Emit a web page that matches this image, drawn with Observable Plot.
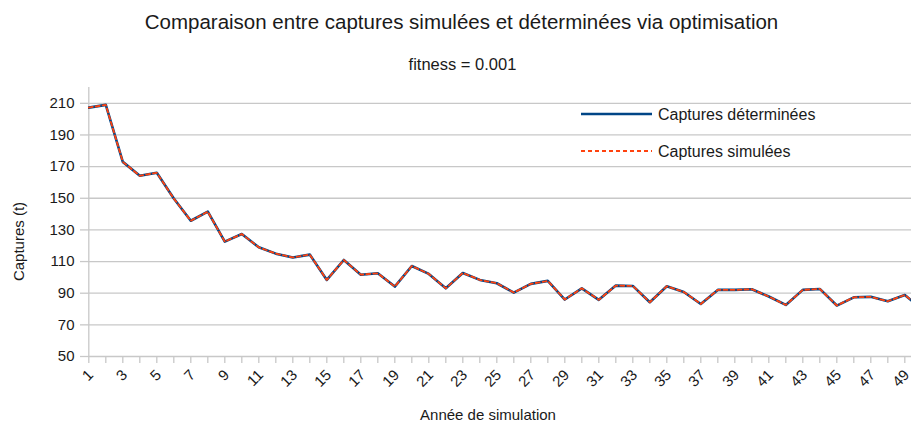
<!DOCTYPE html>
<html>
<head>
<meta charset="utf-8">
<script src="https://cdn.jsdelivr.net/npm/d3@7"></script>
<script src="https://cdn.jsdelivr.net/npm/@observablehq/plot@0.6"></script>
<style>
  html, body { margin: 0; padding: 0; background: white; overflow: hidden; }
  #wrap { position: relative; width: 911px; height: 422px; overflow: hidden; }
  #wrap svg { position: absolute; top: 0; left: 0; }
</style>
</head>
<body>
<div id="wrap"></div>
<script>
const title = "Comparaison entre captures simulées et déterminées via optimisation";
const subtitle = "fitness = 0.001";
const xLabel = "Année de simulation";
const yLabel = "Captures (t)";
const seriesNames = ["Captures déterminées", "Captures simulées"];
const seriesColors = ["#004586", "#ff420e"];

const years = [1,2,3,4,5,6,7,8,9,10,11,12,13,14,15,16,17,18,19,20,21,22,23,24,25,
               26,27,28,29,30,31,32,33,34,35,36,37,38,39,40,41,42,43,44,45,46,47,48,49,50];
const labelYears = [1,3,5,7,9,11,13,15,17,19,21,23,25,27,29,31,33,35,37,39,41,43,45,47,49];
const determined = [207.3,209,173,164.2,166.1,149.8,135.8,141.5,122.6,127.4,
                    119,115,112.6,114.4,98.4,111,101.7,102.6,94.2,107.2,
                    102.2,93.1,102.8,98.4,96.3,90.4,95.9,97.8,86,93.1,
                    85.8,94.8,94.6,84.3,94.4,90.8,83.2,92.1,92.1,92.5,
                    87.9,82.6,92.1,92.7,82.2,87.4,87.7,84.9,88.9,80];
const simulated = [207.3,209,173,164.2,166.1,149.8,135.8,141.5,122.6,127.4,
                   119,115,112.6,114.4,98.4,111,101.7,102.6,94.2,107.2,
                   102.2,93.1,102.8,98.4,96.3,90.4,95.9,97.8,86,93.1,
                   85.8,94.8,94.6,84.3,94.4,90.8,83.2,92.1,92.1,92.5,
                   87.9,82.6,92.1,92.7,82.2,87.4,87.7,84.9,88.9,80];
const yTicks = [50,70,90,110,130,150,170,190,210];

const rows = years.map((yr, i) => ({year: yr, det: determined[i], sim: simulated[i]}));

const font = "'Liberation Sans', Arial, sans-serif";
const textColor = "#1a1a1a";
const gridColor = "#c8c8c8";

const chart = Plot.plot({
  width: 911,
  height: 422,
  marginTop: 87,
  marginBottom: 66,
  marginLeft: 88,
  marginRight: 0,
  style: {fontFamily: font, fontSize: "15px", color: textColor, background: "white", overflow: "hidden"},
  x: {domain: [1, 50], range: [88.3, 921.3]},
  y: {domain: [50, 220]},
  marks: [
    Plot.gridY(yTicks, {stroke: gridColor, strokeOpacity: 1, strokeWidth: 1.3}),
    Plot.ruleX([1], {stroke: gridColor, strokeWidth: 1.3}),
    Plot.axisY(yTicks, {tickSize: 8, tickPadding: 6, stroke: gridColor, strokeWidth: 1.3, strokeOpacity: 1, fill: textColor, label: null, fontSize: 15}),
    Plot.axisX(years, {tickSize: 7, stroke: gridColor, strokeWidth: 1.3, strokeOpacity: 1,
      tickFormat: () => "", label: null}),
    Plot.axisX(labelYears, {tickSize: 0, tickPadding: 10, fill: textColor, dx: 2, dy: 6,
      tickFormat: d => String(d), tickRotate: -45, label: null, fontSize: 15}),
    Plot.line(rows, {x: "year", y: "det", stroke: seriesColors[0], strokeWidth: 2.6, clip: true}),
    Plot.line(rows, {x: "year", y: "sim", stroke: seriesColors[1], strokeWidth: 1.8, strokeDasharray: "4,3", clip: true})
  ]
});
document.getElementById("wrap").appendChild(chart);

// overlay for titles and legend
const ov = d3.select("#wrap").append("svg")
  .attr("width", 911).attr("height", 422)
  .style("pointer-events", "none")
  .style("font-family", font)
  .attr("fill", textColor);

ov.append("text").attr("x", 461.5).attr("y", 28.5).attr("text-anchor", "middle")
  .style("font-size", "20.5px").text(title);
ov.append("text").attr("x", 462.5).attr("y", 70).attr("text-anchor", "middle")
  .style("font-size", "16.5px").text(subtitle);
ov.append("text").attr("x", 488).attr("y", 420).attr("text-anchor", "middle")
  .style("font-size", "15px").text(xLabel);
ov.append("text").attr("transform", "translate(24,241.5) rotate(-90)").attr("text-anchor", "middle")
  .style("font-size", "15px").text(yLabel);

const legY = [114, 151];
seriesNames.forEach((name, i) => {
  ov.append("line").attr("x1", 581).attr("x2", 652).attr("y1", legY[i]).attr("y2", legY[i])
    .attr("stroke", seriesColors[i]).attr("stroke-width", i === 0 ? 2.6 : 1.8)
    .attr("stroke-dasharray", i === 0 ? null : "4,3");
  ov.append("text").attr("x", 658).attr("y", legY[i] + 5.5)
    .style("font-size", "16px").text(name);
});
</script>
</body>
</html>
